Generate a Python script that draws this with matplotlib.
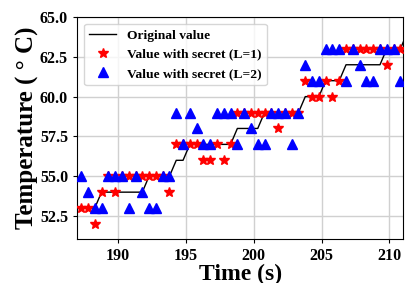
import matplotlib
matplotlib.use("Agg")
import matplotlib.pyplot as plt
import numpy as np

plt.rcParams['font.family'] = ['Liberation Serif', 'DejaVu Serif']
plt.rcParams['font.weight'] = 'bold'

# sample times (s)
time = [187.3 + 0.5 * k for k in range(48)]
# original value line (one extra sample on each side, clipped by axes)
time_orig = [186.8] + time + [211.3]
orig = [53,
        53, 53, 53, 54, 54, 54, 54, 54, 54, 54,
        55, 55, 55, 55, 56, 56, 57, 57, 57, 57,
        57, 57, 57, 58, 58, 58, 58, 59, 59, 59,
        59, 59, 59, 60, 60, 60, 61, 61, 61, 62,
        62, 62, 62, 62, 62, 63, 63, 63,
        64]
secret_l1 = [53, 53, 52, 54, 55, 54, 55, 55, 55, 55,
             55, 55, 55, 54, 57, 57, 57, 57, 56, 56,
             57, 56, 57, 59, 59, 59, 59, 59, 59, 58,
             59, 59, 59, 61, 60, 60, 61, 60, 61, 63,
             63, 63, 63, 63, 63, 62, 63, 63]
secret_l2 = [55, 54, 53, 53, 55, 55, 55, 53, 55, 54,
             53, 53, 55, 55, 59, 57, 59, 58, 57, 57,
             59, 59, 59, 57, 59, 58, 57, 57, 59, 59,
             59, 57, 59, 62, 61, 61, 63, 63, 63, 61,
             63, 62, 61, 61, 63, 63, 63, 61]

x_ticks = [190, 195, 200, 205, 210]
y_ticks = [52.5, 55.0, 57.5, 60.0, 62.5, 65.0]

fig = plt.figure(figsize=(4.19, 2.83), dpi=100)
ax = fig.add_axes([0.184, 0.155, 0.778, 0.785])

ax.plot(time_orig, orig, color='black', lw=1.0, label='Original value', zorder=2)
ax.plot(time, secret_l1, linestyle='none', marker='*', color='red', ms=7,
        label='Value with secret (L=1)', zorder=3)
ax.plot(time, secret_l2, linestyle='none', marker='^', color='blue', ms=6.5,
        label='Value with secret (L=2)', zorder=4)

ax.set_xlim(187, 211)
ax.set_ylim(51.05, 65)
ax.set_xticks(x_ticks)
ax.set_yticks(y_ticks)
ax.set_yticklabels([f"{v:.1f}" for v in y_ticks])
ax.grid(True, color='#d0d0d0', lw=1.0)
ax.set_axisbelow(True)
ax.tick_params(labelsize=11.5, length=3, width=0.8)
for lab in ax.get_xticklabels() + ax.get_yticklabels():
    lab.set_fontweight('bold')

ax.set_xlabel('Time (s)', fontsize=17, fontweight='bold', labelpad=0)
ax.set_ylabel('Temperature ( ° C)', fontsize=18, fontweight='bold', labelpad=1)

leg = ax.legend(loc='upper left', prop={'weight': 'bold', 'size': 9.7},
                handlelength=2, borderaxespad=0.5)

fig.savefig('out.png', dpi=100)
